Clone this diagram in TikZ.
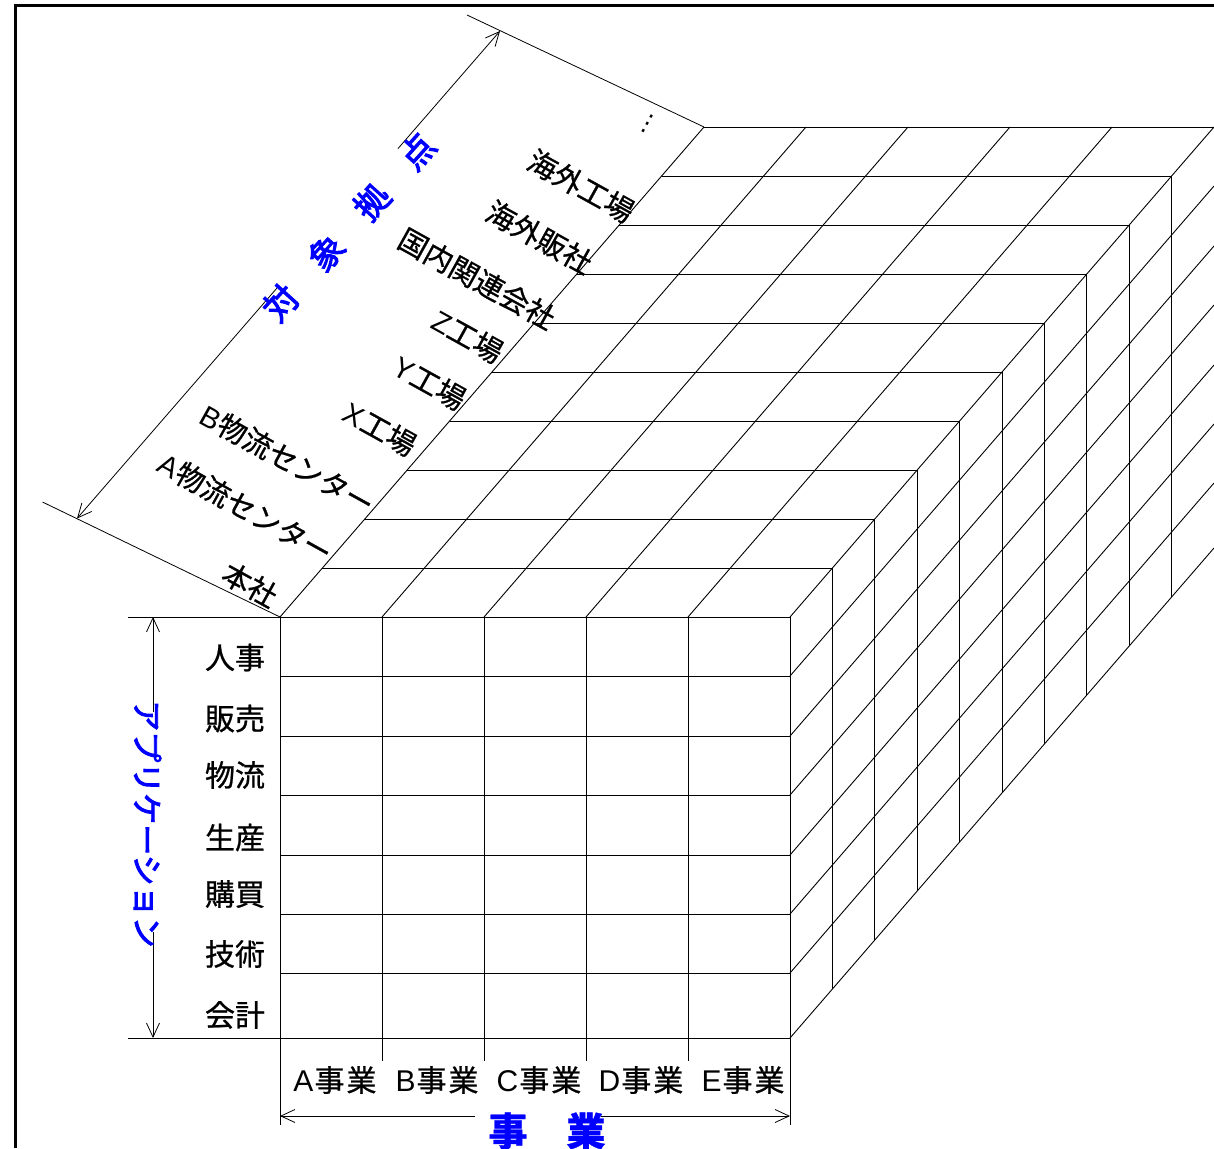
\documentclass[tikz,border=0pt]{standalone}
\usepackage{fontspec}
\setmainfont{Noto Sans CJK JP}[FakeBold=0.8]
\newfontfamily\bluefont{Noto Sans CJK JP}[FakeBold=3]
\newfontfamily\latin{Liberation Sans}
\newfontfamily\symfont{DejaVu Sans}
\usetikzlibrary{arrows.meta,calc}
\definecolor{labblue}{RGB}{0,0,255}
\begin{document}
\begin{tikzpicture}[x=1pt,y=-1pt,
  grid/.style={line width=0.9pt, black},
  dimline/.style={line width=0.8pt, black},
  dimarrow/.style={line width=0.8pt, black, -{Straight Barb[length=14pt,width=13pt]}},
  sitelab/.style={font=\fontsize{29}{29}\selectfont, inner sep=0pt, rotate=-29},
  rowlab/.style={font=\fontsize{30}{30}\selectfont, inner sep=0pt},
  bizlab/.style={font=\fontsize{30}{30}\selectfont, inner sep=0pt},
  bluelab/.style={text=labblue, inner sep=0pt},
]
\useasboundingbox (0,0) rectangle (1214,1148);
\fill[white] (0,0) rectangle (1214,1148);

% outer frame (only left and top edges visible)
\draw[line width=2.6pt] (15.5,1148) -- (15.5,5.5) -- (1214,5.5);

% ---------- cube ----------
% front face
\draw[grid] (280,617) rectangle (790,1038);
\foreach \y in {676,736,795,855,914,973} \draw[grid] (280,\y) -- (790,\y);
\foreach \x in {382,484,586,688} \draw[grid] (\x,617) -- (\x,1061);
% depth layers: top edge and right edge of each slice
\foreach \k in {1,...,10} {
  \draw[grid] ({280+42.4*\k},{617-49*\k}) -- ({790+42.4*\k},{617-49*\k})
              -- ({790+42.4*\k},{1038-49*\k});
}
% receding lines on the top face
\foreach \x in {280,382,484,586,688,790} \draw[grid] (\x,617) -- ++(424,-490);
% receding lines on the right face
\foreach \y in {676,736,795,855,914,973,1038} \draw[grid] (790,\y) -- ++(424,-490);

% ---------- row labels (applications) ----------
\foreach \t/\y [count=\i] in {人事/657.5, 販売/718.5, 物流/775, 生産/837.5, 購買/894, 技術/954, 会計/1015}
  \node[rowlab] (app\i) at (235,\y) {\t};

% ---------- business labels ----------
\foreach \t/\x [count=\i] in {A/335, B/437, C/539, D/641, E/743}
  \node[bizlab] (biz\i) at (\x,1080) {{\latin\t}\kern1pt 事\kern2pt 業};

% ---------- site labels ----------
\node[sitelab] (s1) at (250,584.5) {本社};
\node[sitelab] (s2) at (245.5,508) {{\latin A}物流センター};
\node[sitelab] (s3) at (287.5,459.5) {{\latin B}物流センター};
\node[sitelab] (s4) at (380,429) {{\latin X}工場};
\node[sitelab] (s5) at (429.5,383) {{\latin Y}工場};
\node[sitelab] (s6) at (467.5,336.5) {{\latin Z}工場};
\node[sitelab] (s7) at (477,278.5) {国内関連会社};
\node[sitelab] (s8) at (539.5,237) {海外販社};
\node[sitelab] (s9) at (581,186) {海外工場};
\node[sitelab, font=\symfont\fontsize{24}{24}\selectfont] (s10) at (647.5,124) {⋮};

% ---------- dimension: 対象拠点 ----------
\coordinate (dA) at (77,518.5);
\coordinate (dB) at (500,31);
\draw[dimline] (42.5,502) -- (280,617);
\draw[dimline] (467,15) -- (704,127);
\draw[dimarrow] ($(dA)!0.4728!(dB)$) -- (dA);
\draw[dimarrow] ($(dA)!0.7589!(dB)$) -- (dB);
\node[bluelab, font=\bluefont\fontsize{34}{34}\selectfont, rotate=48] (sitesTitle) at (349,227) {対　象　拠　点};

% ---------- dimension: アプリケーション ----------
\coordinate (aT) at (153,617);
\coordinate (aB) at (153,1038);
\draw[dimline] (128,617) -- (280,617);
\draw[dimline] (128,1038) -- (280,1038);
\draw[dimarrow] (153,712) -- (aT);
\draw[dimarrow] (153,932) -- (aB);
\node[bluelab, font=\bluefont\fontsize{31}{31}\selectfont, rotate=-90] (appTitle) at (147.5,824) {アプリケーション};

% ---------- dimension: 事業 ----------
\coordinate (bL) at (280,1116);
\coordinate (bR) at (790,1116);
\draw[dimline] (280,1038) -- (280,1125);
\draw[dimline] (790,1038) -- (790,1125);
\draw[dimarrow] (475,1116) -- (bL);
\draw[dimarrow] (601,1116) -- (bR);
\node[bluelab, font=\bfseries\fontsize{39}{39}\selectfont] (bizTitle) at (547,1131) {事　業};
\end{tikzpicture}
\end{document}
